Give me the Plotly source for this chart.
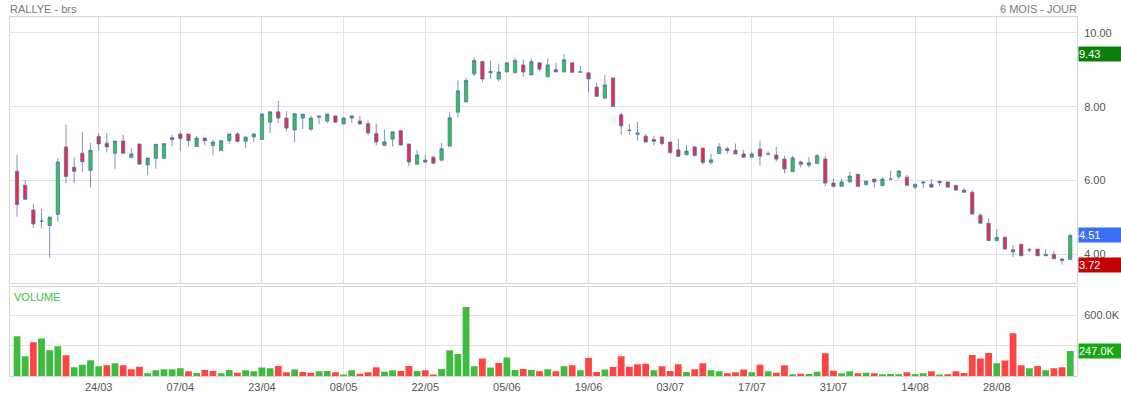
import pandas as pd
import plotly.graph_objects as go

# ---------------- data ----------------
holidays = ["2025-04-18", "2025-04-21", "2025-05-01"]
dates = [d.strftime("%Y-%m-%d") for d in pd.bdate_range("2025-03-10", "2025-09-10", freq="C", holidays=holidays)]

opens = [6.25, 5.87, 5.20, 4.90, 4.78, 5.08, 6.91, 6.36, 6.74, 6.27,
         7.19, 7.01, 6.74, 7.07, 6.62, 6.99, 6.42, 6.60, 6.60, 7.16,
         7.26, 7.26, 6.92, 7.15, 6.95, 6.81, 7.08, 7.26, 7.06, 7.18,
         7.11, 7.58, 7.86, 7.69, 7.37, 7.69, 7.39, 7.75, 7.61, 7.75,
         7.53, 7.69, 7.61, 7.54, 7.27, 6.95, 7.12, 7.35, 6.99, 6.44,
         6.55, 6.63, 6.55, 6.93, 7.85, 8.13, 8.89, 9.22, 8.92, 8.75,
         8.94, 8.92, 9.13, 8.86, 9.19, 8.81, 9.00, 8.94, 9.19, 8.94,
         8.92, 8.53, 8.23, 8.78, 7.78, 7.36, 7.25, 7.20, 7.11, 7.18,
         7.04, 6.83, 6.70, 6.91, 6.88, 6.49, 6.73, 6.86, 6.82, 6.72,
         6.63, 6.85, 6.72, 6.69, 6.58, 6.24, 6.50, 6.41, 6.46, 6.58,
         5.93, 5.84, 5.96, 6.17, 5.89, 6.04, 5.86, 6.04, 6.11, 6.09,
         5.82, 5.93, 5.90, 5.98, 5.96, 5.87, 5.74, 5.68, 5.06, 4.84,
         4.37, 4.46, 4.12, 4.27, 4.12, 4.14, 3.96, 4.00, 3.87, 3.86]
highs = [6.70, 6.02, 5.37, 5.23, 5.01, 6.61, 7.51, 6.63, 7.31, 7.02,
         7.29, 7.29, 7.07, 7.24, 6.89, 6.99, 6.61, 6.98, 7.00, 7.24,
         7.31, 7.26, 7.21, 7.15, 7.10, 7.08, 7.26, 7.31, 7.18, 7.29,
         7.83, 7.86, 8.16, 7.88, 7.81, 7.80, 7.75, 7.75, 7.80, 7.77,
         7.72, 7.77, 7.75, 7.62, 7.54, 7.38, 7.32, 7.35, 6.99, 6.83,
         6.69, 6.66, 7.02, 7.86, 8.71, 8.79, 9.33, 9.25, 9.25, 9.17,
         9.19, 9.33, 9.28, 9.30, 9.19, 9.30, 9.19, 9.43, 9.19, 9.11,
         8.92, 8.64, 8.86, 8.78, 7.84, 7.54, 7.59, 7.26, 7.20, 7.18,
         7.04, 7.13, 6.96, 6.93, 6.88, 6.72, 7.01, 6.91, 7.00, 6.83,
         6.78, 7.08, 6.79, 6.91, 6.67, 6.67, 6.54, 6.64, 6.72, 6.67,
         6.05, 6.04, 6.23, 6.17, 5.98, 6.04, 6.09, 6.26, 6.26, 6.15,
         5.90, 5.96, 6.04, 5.98, 5.96, 5.87, 5.79, 5.74, 5.11, 4.98,
         4.68, 4.49, 4.25, 4.27, 4.18, 4.14, 4.14, 4.09, 3.90, 4.55]
lows = [5.02, 5.49, 4.72, 4.70, 3.91, 4.89, 5.93, 5.93, 6.23, 5.81,
        6.81, 6.76, 6.32, 6.73, 6.62, 6.44, 6.15, 6.32, 6.60, 6.92,
        6.81, 6.92, 6.92, 6.95, 6.68, 6.81, 6.99, 7.03, 6.87, 7.04,
        7.11, 7.28, 7.56, 7.33, 7.04, 7.39, 7.34, 7.53, 7.56, 7.56,
        7.53, 7.56, 7.53, 7.22, 6.95, 6.95, 6.92, 6.96, 6.38, 6.44,
        6.47, 6.47, 6.55, 6.93, 7.71, 8.13, 8.83, 8.66, 8.75, 8.67,
        8.94, 8.92, 8.81, 8.86, 8.96, 8.81, 8.94, 8.94, 8.93, 8.94,
        8.39, 8.28, 8.23, 8.01, 7.24, 7.24, 7.08, 7.04, 6.95, 6.95,
        6.73, 6.65, 6.68, 6.65, 6.43, 6.43, 6.73, 6.73, 6.72, 6.63,
        6.63, 6.41, 6.68, 6.51, 6.19, 6.24, 6.35, 6.35, 6.46, 5.84,
        5.84, 5.84, 5.96, 5.84, 5.86, 5.81, 5.86, 6.04, 6.04, 5.87,
        5.77, 5.79, 5.82, 5.85, 5.82, 5.71, 5.68, 5.09, 4.84, 4.37,
        4.37, 4.14, 3.93, 3.96, 4.05, 3.96, 3.96, 3.88, 3.72, 3.86]
closes = [5.35, 5.49, 4.82, 4.90, 5.01, 6.50, 6.11, 6.25, 6.51, 6.82,
          6.99, 6.91, 7.07, 6.74, 6.72, 6.44, 6.61, 6.98, 7.00, 7.11,
          7.14, 7.08, 7.15, 7.08, 7.04, 7.08, 7.26, 7.06, 7.18, 7.26,
          7.80, 7.86, 7.69, 7.42, 7.81, 7.80, 7.69, 7.72, 7.80, 7.58,
          7.69, 7.75, 7.53, 7.29, 7.04, 7.05, 7.32, 6.96, 6.50, 6.69,
          6.50, 6.47, 6.86, 7.70, 8.43, 8.71, 9.25, 8.75, 8.95, 8.94,
          9.19, 9.25, 8.94, 9.22, 9.02, 9.13, 8.94, 9.27, 8.93, 8.94,
          8.75, 8.28, 8.59, 8.01, 7.48, 7.36, 7.29, 7.04, 7.06, 7.00,
          6.76, 6.65, 6.80, 6.68, 6.49, 6.56, 6.91, 6.81, 6.72, 6.63,
          6.72, 6.66, 6.72, 6.58, 6.31, 6.61, 6.44, 6.48, 6.67, 5.93,
          5.84, 5.96, 6.12, 5.84, 5.98, 5.96, 6.04, 6.04, 6.26, 5.87,
          5.90, 5.96, 5.82, 5.94, 5.82, 5.74, 5.68, 5.09, 4.84, 4.37,
          4.46, 4.14, 4.07, 3.96, 4.12, 3.96, 4.00, 3.88, 3.83, 4.51]
volumes_k = [393, 195, 333, 370, 254, 294, 205, 86, 112, 155,
             96, 106, 125, 106, 66, 92, 26, 56, 66, 66,
             76, 46, 30, 59, 50, 26, 59, 33, 56, 46,
             83, 76, 99, 36, 63, 40, 33, 46, 50, 36,
             13, 56, 23, 36, 86, 43, 56, 50, 99, 50,
             56, 13, 69, 254, 218, 683, 96, 172, 83, 129,
             182, 59, 69, 59, 46, 66, 46, 96, 106, 56,
             178, 40, 63, 89, 195, 92, 115, 122, 56, 96,
             50, 115, 40, 66, 125, 56, 46, 26, 36, 63,
             36, 112, 46, 33, 106, 17, 23, 20, 43, 224,
             53, 26, 46, 26, 33, 26, 17, 20, 17, 36,
             20, 26, 46, 13, 17, 46, 30, 208, 172, 228,
             125, 152, 422, 106, 76, 99, 56, 76, 86, 247]
volumes = [v * 1000 for v in volumes_k]

title_left = "RALLYE - brs"
title_right = "6 MOIS - JOUR"
price_ticks = [4, 6, 8, 10]
vol_ticks = [300000, 600000]

# ---------------- styling ----------------
FONT = "Liberation Sans, Arial, sans-serif"
FS = 11
C_UP = "#33c15a"
C_DN = "#f0264a"
C_WICK = "rgba(80,115,165,0.75)"
V_UP = "#3fbb3f"
V_DN = "#ff4444"
GRID = "#e1e1e1"
FRAME = "#d6d6d6"
TXT = "#555555"

vol_colors = [V_UP] + [V_UP if closes[i] >= closes[i - 1] else V_DN for i in range(1, len(closes))]

tick_dates = dates[10::10]
tick_text = [pd.Timestamp(d).strftime("%d/%m") for d in tick_dates]

fig = go.Figure()
fig.add_trace(go.Candlestick(
    x=dates, open=opens, high=highs, low=lows, close=closes,
    increasing=dict(fillcolor=C_UP, line=dict(color=C_WICK, width=1)),
    decreasing=dict(fillcolor=C_DN, line=dict(color=C_WICK, width=1)),
    xaxis="x", yaxis="y", showlegend=False, hoverinfo="skip"))
fig.add_trace(go.Bar(
    x=dates, y=volumes, marker=dict(color=vol_colors, line=dict(width=0)),
    xaxis="x2", yaxis="y2", showlegend=False, hoverinfo="skip"))

n = len(dates)
xr = [-0.86, n - 1 + 0.83]
W, H = 1121, 396
ml, mt = 10.3, 17.3
mr = W - 1076.7
mb = H - 375.7
ph = H - mt - mb
main_bottom = (375.7 - 283.3) / ph
vol_top = (375.7 - 287.3) / ph

common_x = dict(type="category", range=xr, tickmode="array", tickvals=tick_dates,
                showgrid=True, gridcolor=GRID, gridwidth=1, zeroline=False,
                showline=True, linecolor=FRAME, mirror=True, ticks="",
                rangeslider=dict(visible=False), fixedrange=True, automargin=False)

fig.update_layout(
    width=W, height=H,
    margin=dict(l=ml, r=mr, t=mt, b=mb, autoexpand=False, pad=0),
    paper_bgcolor="white", plot_bgcolor="white",
    font=dict(family=FONT, size=FS, color=TXT),
    boxgap=0.42, bargap=0.17,
    xaxis=dict(common_x, domain=[0, 1], anchor="y", showticklabels=False),
    yaxis=dict(domain=[main_bottom, 1], anchor="x", side="right", range=[3.21, 10.43],
               tickmode="array", tickvals=price_ticks,
               ticktext=[f"{v:.2f}" for v in price_ticks],
               showgrid=True, gridcolor=GRID, zeroline=False, automargin=False,
               showline=True, linecolor=FRAME, mirror=True, ticks="", fixedrange=True,
               ticklabelstandoff=4, tickfont=dict(size=FS, color=TXT)),
    xaxis2=dict(common_x, domain=[0, 1], anchor="y2", showticklabels=True,
                ticktext=tick_text, tickfont=dict(size=FS, color=TXT),
                ticklabelstandoff=1),
    yaxis2=dict(domain=[0, vol_top], anchor="x2", side="right", range=[0, 875000],
                tickmode="array", tickvals=vol_ticks,
                ticktext=["", f"{vol_ticks[1]/1000:.1f}K"],
                showgrid=True, gridcolor=GRID, zeroline=False, automargin=False,
                showline=True, linecolor=FRAME, mirror=True, ticks="", fixedrange=True,
                ticklabelstandoff=4, tickfont=dict(size=FS, color=TXT)),
)

def badge(y, yref, text, color):
    fig.add_annotation(x=1, xref="paper", y=y, yref=yref, xanchor="left", yanchor="middle",
                       xshift=1, text=text, showarrow=False, align="left",
                       bgcolor=color, font=dict(color="white", size=FS, family=FONT),
                       width=42, height=14, borderpad=0)

badge(max(highs), "y", f"{max(highs):.2f}", "#0b7f0b")
badge(closes[-1], "y", f"{closes[-1]:.2f}", "#3c6ef5")
badge(min(lows), "y", f"{min(lows):.2f}", "#c30000")
badge(volumes[-1], "y2", f"{volumes[-1]/1000:.1f}K", "#16a616")

fig.add_annotation(x=0, xref="paper", y=1, yref="paper", xanchor="left", yanchor="bottom",
                   yshift=0, xshift=-2, text=title_left, showarrow=False,
                   font=dict(size=FS, color="#7a7a7a", family=FONT))
fig.add_annotation(x=1, xref="paper", y=1, yref="paper", xanchor="right", yanchor="bottom",
                   yshift=0, xshift=2, text=title_right, showarrow=False,
                   font=dict(size=FS, color="#7a7a7a", family=FONT))
fig.add_annotation(x=0, xref="paper", y=vol_top, yref="paper", xanchor="left", yanchor="top",
                   xshift=2, yshift=-2, text="VOLUME", showarrow=False,
                   font=dict(size=FS, color="#44bb44", family=FONT))

# remove the default 8px page margin so the figure sits at the window's corner
fig.write_html("out.html", config={"displayModeBar": False},
               post_script="document.body.style.margin='0';")
